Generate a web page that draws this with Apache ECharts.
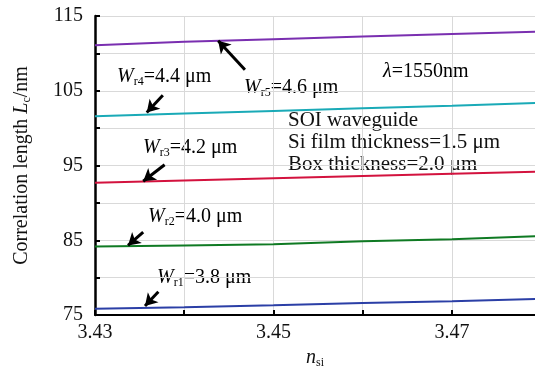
<!DOCTYPE html>
<html><head><meta charset="utf-8">
<script src="https://cdn.jsdelivr.net/npm/echarts@6/dist/echarts.min.js"></script>
<style>html,body{margin:0;padding:0;background:#fff}#c{width:535px;height:370px}</style>
</head><body><div id="c"></div>
<script>
var nSi = [3.43, 3.44, 3.45, 3.46, 3.47, 3.48];
var Wr1 = [75.85, 76.05, 76.3, 76.6, 76.85, 77.15];
var Wr2 = [84.15, 84.3, 84.45, 84.85, 85.15, 85.55];
var Wr3 = [92.7, 93.0, 93.3, 93.6, 93.9, 94.2];
var Wr4 = [101.6, 101.95, 102.3, 102.65, 103.0, 103.4];
var Wr5 = [111.1, 111.55, 111.9, 112.25, 112.6, 112.9];
var yTicks = [75, 85, 95, 105, 115];
var xTicks = [3.43, 3.45, 3.47];
// arrow annotations: [tail, head] in data coords
var arrows = {
  Wr1: [[3.4371, 78.1], [3.4356, 76.2]],
  Wr2: [[3.4354, 86.1], [3.4337, 84.3]],
  Wr3: [[3.4378, 95.1], [3.4354, 92.9]],
  Wr4: [[3.4376, 104.4], [3.4358, 102.1]],
  Wr5: [[3.4468, 107.8], [3.4438, 111.7]]
};
var FONT = 'Liberation Serif';
var colors = {Wr1:'#2b3fa6', Wr2:'#0f7a23', Wr3:'#d3123e', Wr4:'#1aaab7', Wr5:'#7a2fb0'};
function mk(name, vals){
  var a = arrows[name];
  return {
    type:'line', name:name, data: nSi.map(function(x,i){return [x, vals[i]];}),
    showSymbol:false, clip:true, smooth:false,
    lineStyle:{color:colors[name], width:2}, itemStyle:{color:colors[name]},
    markLine:{silent:true, symbol:['none','arrow'], symbolSize:[11,12], label:{show:false},
      lineStyle:{color:'#000', width:3, type:'solid'},
      data:[[{coord:a[0]},{coord:a[1]}]]}
  };
}
var rich = {
  i:{fontFamily:FONT, fontStyle:'italic', fontSize:20, color:'#111'},
  s:{fontFamily:FONT, fontSize:12, color:'#111', padding:[10,0,0,0]},
  t:{fontFamily:FONT, fontSize:20, color:'#111'}
};
function wlabel(sub, val, x, y){
  return {type:'text', left:x, top:y, style:{text:'{i|W}{s|'+sub+'}{t|='+val+' μm}', rich:rich}};
}
var chart = echarts.init(document.getElementById('c'));
chart.setOption({
  animation:false,
  grid:{left:95, right:0, top:16, bottom:55, outerBoundsMode:'none', containLabel:false},
  xAxis:{type:'value', min:3.43, max:3.4793, interval:0.01,
    name:'{i|n}{s|si}', nameLocation:'middle', nameGap:30,
    nameTextStyle:{rich:rich},
    axisLine:{show:true, lineStyle:{color:'#000', width:2}},
    axisTick:{show:true, inside:true, length:5, lineStyle:{color:'#000', width:2}},
    splitLine:{show:true, lineStyle:{color:'#d9d9d9', width:1}},
    axisLabel:{showMaxLabel:false, fontFamily:FONT, fontSize:20, color:'#111', margin:8,
      formatter:function(v){ for(var k=0;k<xTicks.length;k++){ if(Math.abs(v-xTicks[k])<1e-6) return xTicks[k].toFixed(2);} return ''; }}
  },
  yAxis:{type:'value', min:75, max:115, interval:5,
    name:'Correlation length {i|L}{s|c}{t|/nm}', nameLocation:'middle', nameGap:62, nameRotate:90,
    nameTextStyle:{fontFamily:FONT, fontSize:20, color:'#111', rich:rich},
    axisLine:{show:true, lineStyle:{color:'#000', width:2.5}},
    axisTick:{show:true, inside:true, length:5, lineStyle:{color:'#000', width:2}},
    splitLine:{show:true, lineStyle:{color:'#d9d9d9', width:1}},
    axisLabel:{fontFamily:FONT, fontSize:20, color:'#111', margin:12,
      formatter:function(v){ return yTicks.indexOf(Math.round(v))>=0 ? String(Math.round(v)) : ''; }}
  },
  series:[mk('Wr1',Wr1), mk('Wr2',Wr2), mk('Wr3',Wr3), mk('Wr4',Wr4), mk('Wr5',Wr5)],
  graphic:[
    wlabel('r4','4.4',117,67),
    wlabel('r5','4.6',244,78),
    wlabel('r3','4.2',143,138),
    wlabel('r2','4.0',148,207),
    wlabel('r1','3.8',157,268),
    {type:'text', left:383, top:62, style:{text:'{i|λ}{t|=1550nm}', rich:rich}},
    {type:'text', left:288, top:109, style:{text:'SOI waveguide\nSi film thickness=1.5 μm\nBox thickness=2.0 μm', fontFamily:FONT, fontSize:21, lineHeight:22, fill:'#111'}}
  ]
});
</script></body></html>
